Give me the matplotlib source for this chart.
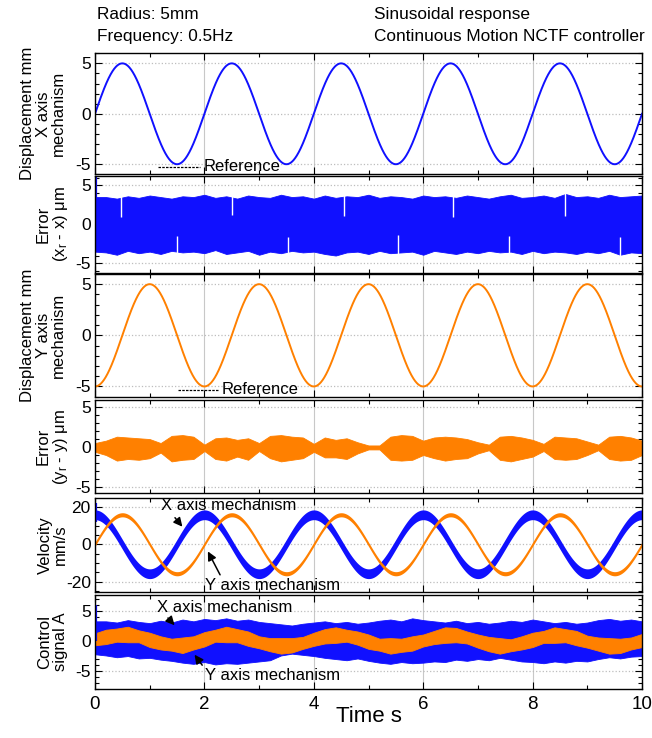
import numpy as np
import matplotlib.pyplot as plt
from matplotlib.ticker import MultipleLocator

plt.rcParams['font.family'] = ['Liberation Sans', 'DejaVu Sans']
plt.rcParams['mathtext.default'] = 'regular'
plt.rcParams['axes.unicode_minus'] = False

BLUE = '#1010ff'
ORANGE = '#ff8000'

# test conditions
radius = 5.0   # mm
freq = 0.5     # Hz
t_end = 10.0

# envelope samples every 0.2 s (0 ... 10 s)
t_env = np.linspace(0, t_end, 51)

# tracking error, X axis (um)
err_x_up = [3.5, 3.5, 3.3, 3.6, 3.4, 3.7, 3.5, 3.3, 3.6, 3.5,
            3.8, 3.4, 3.6, 3.3, 3.7, 3.5, 3.4, 3.8, 3.5, 3.6,
            3.3, 3.7, 3.4, 3.6, 3.5, 3.8, 3.4, 3.6, 3.5, 3.3,
            3.7, 3.5, 3.6, 3.4, 3.7, 3.5, 3.3, 3.6, 3.8, 3.4,
            3.5, 3.7, 3.4, 3.9, 3.5, 3.6, 3.4, 3.8, 3.5, 3.6, 3.7]
err_x_lo = [-3.5, -3.6, -3.9, -3.4, -3.7, -3.5, -3.8, -3.4, -3.6, -3.5,
            -3.7, -3.3, -3.8, -3.6, -3.4, -3.9, -3.5, -3.7, -3.4, -3.6,
            -3.5, -3.8, -4.0, -3.6, -3.5, -3.8, -3.4, -3.7, -3.6, -3.5,
            -3.9, -3.4, -3.6, -3.8, -3.5, -3.7, -3.4, -3.6, -3.5, -3.8,
            -3.4, -3.7, -3.5, -3.6, -3.8, -3.5, -3.7, -3.4, -3.9, -3.6, -3.7]
err_x_start_peak = 6.2
err_x_dips_up_t = [0.47, 2.51, 4.55, 6.55, 8.59]
err_x_dips_up = [1.0, 1.2, 1.1, 1.0, 1.1]
err_x_dips_lo_t = [1.49, 3.53, 5.53, 7.57, 9.59]
err_x_dips_lo = [-1.5, -1.6, -1.4, -1.5, -1.6]

# tracking error, Y axis (um)
err_y_up = [0.5, 0.8, 1.3, 1.2, 1.1, 1.0, 0.5, 1.4, 1.5, 1.3,
            0.3, 1.1, 1.2, 0.9, 1.1, 0.5, 1.4, 1.5, 1.3, 1.2,
            0.4, 1.2, 0.9, 1.1, 0.6, 0.2, 0.2, 1.3, 1.5, 1.4,
            0.8, 1.2, 1.3, 1.2, 1.0, 0.6, 0.3, 1.3, 1.4, 1.2,
            0.9, 0.4, 1.3, 1.2, 1.1, 0.7, 0.3, 1.3, 1.4, 1.2, 0.8]
err_y_lo = [-0.6, -1.0, -1.7, -1.5, -1.6, -1.4, -0.7, -1.8, -1.6, -1.5,
            -0.5, -1.5, -1.7, -1.2, -1.6, -0.5, -1.4, -1.8, -1.6, -1.4,
            -0.6, -1.3, -1.3, -1.5, -0.8, -0.3, -0.3, -1.6, -1.7, -1.6,
            -1.0, -1.4, -1.7, -1.5, -1.4, -0.8, -0.4, -1.6, -1.8, -1.5,
            -1.2, -0.5, -1.5, -1.6, -1.5, -1.0, -0.4, -1.5, -1.7, -1.6, -1.0]

# velocity ripple half-widths (mm/s)
vel_x_ripple = 2.6
vel_y_ripple = 1.1
vel_x_start_peak = 22.0

# control signal, X axis (A)
ctrl_x_up = [3.3, 3.3, 3.1, 3.5, 3.2, 3.0, 3.4, 3.1, 3.6, 3.3,
             3.7, 3.5, 3.8, 3.4, 3.6, 3.2, 3.0, 2.8, 2.6, 2.9,
             3.1, 3.3, 3.0, 3.2, 2.9, 3.1, 3.4, 3.6, 3.3, 3.8,
             3.5, 3.3, 3.1, 3.4, 3.0, 3.2, 2.9, 3.1, 3.4, 3.2,
             3.6, 3.3, 3.0, 3.2, 2.9, 3.1, 3.5, 3.7, 3.4, 3.6, 3.3]
ctrl_x_lo = [-2.2, -2.4, -2.7, -2.5, -2.9, -2.8, -3.1, -3.3, -3.6, -3.8,
             -3.5, -3.9, -3.7, -3.8, -3.6, -3.4, -3.2, -2.4, -2.1, -2.3,
             -2.5, -2.8, -3.0, -3.2, -2.9, -3.3, -3.6, -3.8, -3.5, -3.7,
             -3.6, -3.4, -3.5, -3.1, -3.3, -3.0, -3.2, -2.8, -3.1, -3.4,
             -3.5, -3.7, -3.4, -3.6, -3.3, -3.4, -3.0, -2.7, -2.9, -2.6, -2.5]
ctrl_x_start_peak = 6.0

# control signal, Y axis (A): band centre and half-width
ctrl_y_mid = [0.3, 0.7, 1.0, 1.1, 0.8, 0.2, -0.3, -0.6, -0.7, -0.3,
              0.3, 0.9, 1.1, 0.9, 0.4, -0.2, -0.6, -0.8, -0.7, -0.3,
              0.3, 0.8, 1.0, 0.9, 0.5, -0.1, -0.6, -0.8, -0.7, -0.4,
              0.1, 0.6, 1.0, 1.0, 0.6, 0.0, -0.5, -0.8, -0.7, -0.3,
              0.2, 0.7, 1.0, 0.9, 0.5, -0.1, -0.5, -0.8, -0.8, -0.4, 0.1]
ctrl_y_half = [1.0, 1.2, 1.1, 1.3, 1.0, 1.2, 1.1, 1.0, 1.3, 1.1,
               1.2, 1.0, 1.3, 1.1, 1.2, 1.0, 1.1, 1.3, 1.2, 1.0,
               1.1, 1.2, 1.3, 1.0, 1.1, 1.2, 1.0, 1.3, 1.1, 1.2,
               1.0, 1.1, 1.3, 1.2, 1.0, 1.1, 1.2, 1.3, 1.0, 1.1,
               1.2, 1.0, 1.3, 1.1, 1.2, 1.0, 1.1, 1.3, 1.2, 1.0, 1.1]

# circular reference: x = R sin(wt), y = -R cos(wt)
t = np.linspace(0, t_end, 2001)
w = 2 * np.pi * freq
x_disp = radius * np.sin(w * t)
y_disp = -radius * np.cos(w * t)
x_vel = radius * w * np.cos(w * t)
y_vel = radius * w * np.sin(w * t)

fig = plt.figure(figsize=(6.52, 7.38), dpi=100)

left, width = 0.1457, 0.839
boxes = [(0.7638, 0.1640), (0.6305, 0.1310), (0.4625, 0.1663),
         (0.3316, 0.1264), (0.1982, 0.1266), (0.0660, 0.1278)]
ylims = [(-6, 6), (-6.2, 6.2), (-6, 6), (-5.8, 5.9), (-25.3, 24.5), (-8.05, 7.7)]
axes = []
for (b, h), yl in zip(boxes, ylims):
    ax = fig.add_axes([left, b, width, h])
    ax.set_xlim(0, t_end)
    ax.set_ylim(*yl)
    ax.xaxis.set_major_locator(MultipleLocator(2))
    ax.xaxis.set_minor_locator(MultipleLocator(1))
    ax.tick_params(which='both', direction='in', top=True, right=True, width=0.8)
    ax.tick_params(which='major', length=5, labelsize=12.5, pad=3)
    ax.tick_params(which='minor', length=3)
    ax.grid(axis='x', which='major', color='#c8c8c8', lw=0.8, ls='-')
    ax.grid(axis='y', which='major', color='#bdbdbd', lw=0.9, ls=':')
    ax.set_axisbelow(True)
    for s in ax.spines.values():
        s.set_linewidth(1.0)
    if len(axes) < 5:
        ax.tick_params(labelbottom=False)
    axes.append(ax)

for i in (0, 1, 2, 3, 5):
    axes[i].yaxis.set_major_locator(MultipleLocator(5))
    axes[i].yaxis.set_minor_locator(MultipleLocator(1))
axes[4].yaxis.set_major_locator(MultipleLocator(20))
axes[4].yaxis.set_minor_locator(MultipleLocator(5))

ref_dash = (0, (2, 1))

# X displacement
ax = axes[0]
ax.plot(t, x_disp, color=BLUE, lw=1.4)
ax.plot([1.15, 1.92], [-5.25, -5.25], color='black', lw=0.9, ls=ref_dash)
ax.text(1.98, -5.25, 'Reference', fontsize=12, va='center', ha='left', clip_on=False, zorder=10)

# X error
ax = axes[1]
ax.fill_between(t_env, err_x_lo, err_x_up, color=BLUE, lw=0.6, edgecolor=BLUE)
ax.vlines(err_x_dips_up_t, err_x_dips_up, 4.3, color='white', lw=1.0)
ax.vlines(err_x_dips_lo_t, -4.3, err_x_dips_lo, color='white', lw=1.0)
ax.vlines(0.02, 0, err_x_start_peak, color=BLUE, lw=1.6)

# Y displacement
ax = axes[2]
ax.plot(t, y_disp, color=ORANGE, lw=1.4)
ax.plot([1.52, 2.25], [-5.3, -5.3], color='black', lw=0.9, ls=ref_dash)
ax.text(2.31, -5.3, 'Reference', fontsize=12, va='center', ha='left', clip_on=False, zorder=10)

# Y error
ax = axes[3]
ax.fill_between(t_env, err_y_lo, err_y_up, color=ORANGE, lw=0.6, edgecolor=ORANGE)

# velocities
ax = axes[4]
ax.fill_between(t, x_vel - vel_x_ripple, x_vel + vel_x_ripple, color=BLUE, lw=0)
ax.vlines(0.02, 12, vel_x_start_peak, color=BLUE, lw=1.6)
ax.fill_between(t, y_vel - vel_y_ripple, y_vel + vel_y_ripple, color=ORANGE, lw=0)
ax.text(1.2, 20.6, 'X axis mechanism', fontsize=12, va='center', ha='left', zorder=10)
ax.annotate('', xy=(1.63, 8.2), xytext=(1.43, 15.3),
            arrowprops=dict(arrowstyle='-|>', color='black', lw=1.1, mutation_scale=13))
ax.text(2.02, -22.0, 'Y axis mechanism', fontsize=12, va='center', ha='left', clip_on=False, zorder=10)
ax.annotate('', xy=(2.04, -2.5), xytext=(2.31, -17.6),
            arrowprops=dict(arrowstyle='-|>', color='black', lw=1.1, mutation_scale=13))

# control signals
ax = axes[5]
ax.fill_between(t_env, ctrl_x_lo, ctrl_x_up, color=BLUE, lw=0.6, edgecolor=BLUE)
ax.vlines(0.02, 0, ctrl_x_start_peak, color=BLUE, lw=1.6)
mid = np.array(ctrl_y_mid)
half = np.array(ctrl_y_half)
ax.fill_between(t_env, mid - half, mid + half, color=ORANGE, lw=0.6, edgecolor=ORANGE)
ax.text(1.13, 5.6, 'X axis mechanism', fontsize=12, va='center', ha='left', zorder=10)
ax.annotate('', xy=(1.49, 2.3), xytext=(1.3, 4.2),
            arrowprops=dict(arrowstyle='-|>', color='black', lw=1.1, mutation_scale=13))
ax.text(2.02, -5.8, 'Y axis mechanism', fontsize=12, va='center', ha='left', zorder=10)
ax.annotate('', xy=(1.79, -1.9), xytext=(1.99, -4.4),
            arrowprops=dict(arrowstyle='-|>', color='black', lw=1.1, mutation_scale=13))
ax.tick_params(axis='x', labelsize=13.5, pad=5)

# y-axis titles
lab = dict(rotation=90, ha='center', va='center', fontsize=12, linespacing=1.05,
           multialignment='center')
fig.text(0.066, 0.8458, 'Displacement mm\nX axis\nmechanism', **lab)
fig.text(0.081, 0.696, 'Error\n(x$_r$ - x) \u03bcm', **lab)
fig.text(0.066, 0.5455, 'Displacement mm\nY axis\nmechanism', **lab)
fig.text(0.081, 0.3947, 'Error\n(y$_r$ - y) \u03bcm', **lab)
fig.text(0.081, 0.2615, 'Velocity\nmm/s', **lab)
fig.text(0.081, 0.130, 'Control\nsignal A', **lab)

fig.text(0.5654, 0.0285, 'Time s', fontsize=16, ha='center', va='center')

# header
fig.text(0.1488, 0.981, f'Radius: {radius:g}mm', fontsize=12.4, va='center')
fig.text(0.1488, 0.951, f'Frequency: {freq:g}Hz', fontsize=12.4, va='center')
fig.text(0.5736, 0.981, 'Sinusoidal response', fontsize=12.4, va='center')
fig.text(0.5736, 0.951, 'Continuous Motion NCTF controller', fontsize=12.4, va='center')

fig.savefig('out.png', dpi=100)
